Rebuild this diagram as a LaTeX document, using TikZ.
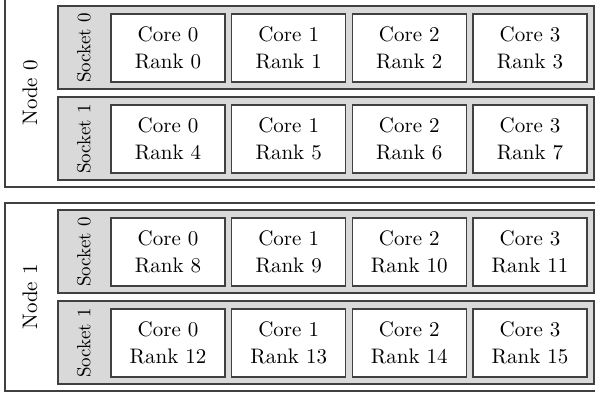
\documentclass[tikz,border=0pt]{standalone}
\usepackage{tikz}
\definecolor{sockgray}{gray}{0.85}
\definecolor{edgegray}{gray}{0.25}

\begin{document}
\begin{tikzpicture}[x=0.5pt,y=-0.5pt,
  nodebox/.style={draw=edgegray,line width=0.6pt},
  sockbox/.style={draw=edgegray,fill=sockgray,line width=0.6pt},
  corebox/.style={draw=edgegray,fill=white,line width=0.6pt,minimum width=57pt,minimum height=34pt,align=center,inner sep=0pt,font=\fontsize{10.5}{13.5}\selectfont}]
\useasboundingbox (0,0) rectangle (595,396);
\clip (0,0) rectangle (595,396);
\foreach \n in {0,1} {
  \draw[nodebox] (5,{-1+204*\n}) rectangle (610,{187+204*\n});
  \node[rotate=90,font=\fontsize{10.5}{12}\selectfont] (n\n) at (30,{93+204*\n}) {Node \n};
  \foreach \s in {0,1} {
    \draw[sockbox] (58,{6+204*\n+91*\s}) rectangle (594,{89+204*\n+91*\s});
    \node[rotate=90,font=\fontsize{9.5}{11}\selectfont] (s\n\s) at (84,{48+204*\n+91*\s}) {Socket \s};
    \foreach \c in {0,...,3} {
      \pgfmathtruncatemacro\r{8*\n+4*\s+\c}
      \node[corebox] (c\n\s\c) at ({168+120.67*\c},{48+204*\n+91*\s}) {Core \c\\Rank \r};
    }
  }
}
\end{tikzpicture}
\end{document}
